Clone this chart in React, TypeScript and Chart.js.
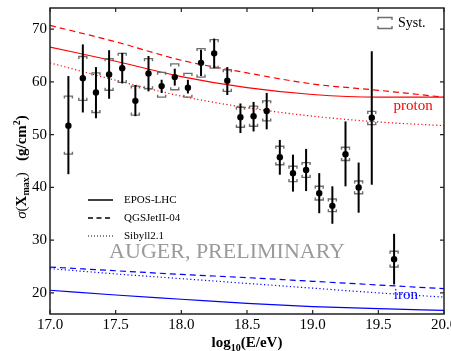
import React, { useEffect, useRef } from 'react';
import { Chart, registerables } from 'chart.js';
Chart.register(...registerables);

const SERIF = '"Liberation Serif", "Times New Roman", serif';

// Data points (log10(E/eV)) and sigma(Xmax) in g/cm^2
const X_BINS = [17.14, 17.25, 17.35, 17.45, 17.55, 17.65, 17.75, 17.85, 17.95, 18.05, 18.15, 18.25, 18.35, 18.45, 18.55, 18.65, 18.75, 18.85, 18.95, 19.05, 19.15, 19.25, 19.35, 19.45, 19.62];
const SIGMA = [51.7, 60.7, 58.0, 61.4, 62.6, 56.4, 61.6, 59.2, 60.9, 58.9, 63.6, 65.4, 60.2, 53.3, 53.5, 54.5, 45.7, 42.7, 43.3, 38.9, 36.5, 46.3, 40.0, 53.2, 26.4];
const STAT_LO = [42.5, 54.2, 53.1, 56.8, 59.7, 53.5, 58.2, 57.9, 59.3, 57.8, 61.1, 62.6, 57.5, 50.3, 50.6, 51.0, 42.4, 39.2, 39.3, 35.1, 33.1, 40.2, 35.2, 40.5, 21.6];
const STAT_HI = [61.1, 67.1, 62.8, 66.0, 65.5, 59.4, 64.9, 60.4, 62.5, 60.4, 66.1, 68.2, 62.8, 55.9, 56.2, 57.9, 49.0, 46.2, 47.3, 42.7, 40.2, 52.5, 44.7, 65.8, 31.2];
const SYS_LO = [46.3, 56.5, 54.2, 58.4, 59.9, 53.7, 58.7, 57.1, 58.5, 57.1, 60.9, 62.6, 58.2, 51.4, 51.6, 52.6, 44.3, 41.1, 41.9, 37.6, 35.4, 45.1, 38.8, 51.9, 24.9];
const SYS_HI = [57.3, 64.8, 61.7, 64.4, 65.4, 59.2, 64.4, 61.8, 63.4, 61.6, 66.3, 68.0, 62.3, 55.2, 55.4, 56.4, 47.8, 44.0, 44.7, 40.2, 37.8, 47.6, 41.2, 54.4, 27.9];

// Model predictions
const E_MODEL = [17.0, 17.5, 18.0, 18.5, 19.0, 19.5, 20.0];
const P_EPOS = [66.6, 63.9, 61.0, 58.9, 57.6, 57.1, 57.1];
const P_QGS = [70.7, 67.6, 64.1, 61.7, 59.6, 58.4, 57.1];
const P_SIB = [63.6, 60.3, 57.3, 55.1, 53.5, 52.4, 51.7];
const FE_EPOS = [20.5, 19.6, 18.8, 18.0, 17.4, 17.0, 16.7];
const FE_QGS = [24.9, 24.2, 23.5, 22.9, 22.2, 21.5, 20.8];
const FE_SIB = [24.6, 23.6, 22.7, 21.8, 20.9, 20.0, 19.2];

const LEGEND = [
  { label: 'EPOS-LHC', dash: [] as number[] },
  { label: 'QGSJetII-04', dash: [5, 3.5] },
  { label: 'Sibyll2.1', dash: [1, 2] },
];

const toXY = (ys: number[]) => E_MODEL.map((x, i) => ({ x, y: ys[i] }));

type Run = { t: string; font: string; dy?: number };
function drawRuns(ctx: CanvasRenderingContext2D, runs: Run[], cx: number, baseline: number) {
  let total = 0;
  for (const r of runs) { ctx.font = r.font; total += ctx.measureText(r.t).width; }
  let x = cx - total / 2;
  ctx.textAlign = 'left';
  ctx.textBaseline = 'alphabetic';
  for (const r of runs) {
    ctx.font = r.font;
    ctx.fillText(r.t, x, baseline + (r.dy || 0));
    x += ctx.measureText(r.t).width;
  }
}

export default function App() {
  const ref = useRef<HTMLCanvasElement>(null);
  useEffect(() => {
    const ctx = ref.current!.getContext('2d')!;
    const overlay = {
      id: 'overlay',
      beforeDatasetDraw(chart: any, args: any) {
        if (args.index !== 0) return;
        const c = chart.ctx;
        const xs = chart.scales.x, ys = chart.scales.y;
        c.save();
        // systematic brackets
        c.strokeStyle = '#6e6e6e';
        c.lineWidth = 1.4;
        X_BINS.forEach((e, i) => {
          const px = xs.getPixelForValue(e);
          const hw = 4;
          const yh = ys.getPixelForValue(SYS_HI[i]);
          const yl = ys.getPixelForValue(SYS_LO[i]);
          c.beginPath();
          c.moveTo(px - hw, yh + 2.5); c.lineTo(px - hw, yh); c.lineTo(px + hw, yh); c.lineTo(px + hw, yh + 2.5);
          c.moveTo(px - hw, yl - 2.5); c.lineTo(px - hw, yl); c.lineTo(px + hw, yl); c.lineTo(px + hw, yl - 2.5);
          c.stroke();
        });
        // statistical bars
        c.strokeStyle = '#000';
        c.lineWidth = 2;
        X_BINS.forEach((e, i) => {
          const px = xs.getPixelForValue(e);
          c.beginPath();
          c.moveTo(px, ys.getPixelForValue(STAT_LO[i]));
          c.lineTo(px, ys.getPixelForValue(STAT_HI[i]));
          c.stroke();
        });
        c.restore();
      },
      afterDraw(chart: any) {
        const c = chart.ctx as CanvasRenderingContext2D;
        const a = chart.chartArea;
        const xs = chart.scales.x, ys = chart.scales.y;
        c.save();
        // frame
        c.strokeStyle = '#222';
        c.lineWidth = 1.5;
        c.strokeRect(a.left, a.top, a.right - a.left, a.bottom - a.top);
        // inward ticks
        c.lineWidth = 1.2;
        c.beginPath();
        xs.ticks.forEach((t: any) => {
          const px = xs.getPixelForValue(t.value);
          c.moveTo(px, a.bottom); c.lineTo(px, a.bottom - 4);
          c.moveTo(px, a.top); c.lineTo(px, a.top + 4);
        });
        ys.ticks.forEach((t: any) => {
          const py = ys.getPixelForValue(t.value);
          c.moveTo(a.left, py); c.lineTo(a.left + 4, py);
          c.moveTo(a.right, py); c.lineTo(a.right - 4, py);
        });
        c.stroke();

        // watermark
        c.fillStyle = '#9a9a9a';
        c.font = `22px ${SERIF}`;
        c.textAlign = 'left';
        c.textBaseline = 'alphabetic';
        c.fillText('AUGER, PRELIMINARY', xs.getPixelForValue(17.45), ys.getPixelForValue(26.7));

        // model labels
        c.font = `15px ${SERIF}`;
        c.textAlign = 'center';
        c.textBaseline = 'middle';
        c.fillStyle = '#ff0000';
        c.fillText('proton', xs.getPixelForValue(19.765), ys.getPixelForValue(55.5));
        c.fillStyle = '#0000ff';
        c.fillText('iron', xs.getPixelForValue(19.71), ys.getPixelForValue(19.5));

        // legend
        c.fillStyle = '#000';
        c.strokeStyle = '#000';
        c.font = `11px ${SERIF}`;
        c.textAlign = 'left';
        LEGEND.forEach((l, i) => {
          const y = a.top + 192 + i * 18;
          c.setLineDash(l.dash);
          c.lineWidth = l.dash.length && l.dash[0] < 2 ? 1 : 1.5;
          c.beginPath(); c.moveTo(a.left + 38, y); c.lineTo(a.left + 63, y); c.stroke();
          c.setLineDash([]);
          c.fillText(l.label, a.left + 74, y);
        });

        // Syst. key
        c.strokeStyle = '#6e6e6e';
        c.lineWidth = 1.4;
        const kx = a.right - 66, ky = a.top + 15;
        c.beginPath();
        c.moveTo(kx, ky - 3); c.lineTo(kx, ky - 5.5); c.lineTo(kx + 14, ky - 5.5); c.lineTo(kx + 14, ky - 3);
        c.moveTo(kx, ky + 3); c.lineTo(kx, ky + 5.5); c.lineTo(kx + 14, ky + 5.5); c.lineTo(kx + 14, ky + 3);
        c.stroke();
        c.fillStyle = '#000';
        c.font = `14px ${SERIF}`;
        c.textBaseline = 'middle';
        c.fillText('Syst.', kx + 20, ky);

        // x title
        c.fillStyle = '#000';
        drawRuns(c, [
          { t: 'log', font: `bold 15px ${SERIF}` },
          { t: '10', font: `bold 10px ${SERIF}`, dy: 4 },
          { t: '(E/eV)', font: `bold 15px ${SERIF}` },
        ], (a.left + a.right) / 2, 347);

        // y title
        c.translate(26, 167);
        c.rotate(-Math.PI / 2);
        drawRuns(c, [
          { t: 'σ', font: `italic 15px ${SERIF}` },
          { t: '(', font: `15px ${SERIF}` },
          { t: 'X', font: `bold 15px ${SERIF}` },
          { t: 'max', font: `bold 10px ${SERIF}`, dy: 3 },
          { t: ')', font: `15px ${SERIF}` },
          { t: '   (g/cm', font: `bold 15px ${SERIF}` },
          { t: '2', font: `bold 10px ${SERIF}`, dy: -6 },
          { t: ')', font: `bold 15px ${SERIF}` },
        ], 0, 0);
        c.restore();
      },
    };

    const lineDs = (data: number[], color: string, dash: number[], w = 1.2) => ({
      type: 'line' as const,
      data: toXY(data),
      borderColor: color,
      borderWidth: w,
      borderDash: dash,
      pointRadius: 0,
      fill: false,
      cubicInterpolationMode: 'monotone' as const,
    });

    const chart = new Chart(ctx, {
      type: 'scatter',
      data: {
        datasets: [
          {
            type: 'scatter',
            data: X_BINS.map((x, i) => ({ x, y: SIGMA[i] })),
            pointRadius: 3.2,
            pointBackgroundColor: '#000',
            pointBorderWidth: 0,
          } as any,
          lineDs(P_EPOS, '#ff0000', []),
          lineDs(P_QGS, '#ff0000', [6, 4]),
          lineDs(P_SIB, '#ff0000', [1.2, 2.5]),
          lineDs(FE_EPOS, '#0000ff', []),
          lineDs(FE_QGS, '#0000ff', [6, 4]),
          lineDs(FE_SIB, '#0000ff', [1.2, 2.5]),
        ],
      },
      plugins: [overlay],
      options: {
        responsive: false,
        animation: false,
        layout: { padding: { top: 8, right: 7, left: 0, bottom: 0 } },
        plugins: { legend: { display: false }, tooltip: { enabled: false } },
        scales: {
          x: {
            type: 'linear',
            min: 17,
            max: 20,
            grid: { display: false, drawTicks: false },
            border: { display: false },
            ticks: {
              stepSize: 0.5,
              autoSkip: false,
              maxRotation: 0,
              padding: 2,
              color: '#000',
              font: { family: SERIF, size: 15 },
              callback: (v: any) => Number(v).toFixed(1),
            },
            afterFit: (s: any) => { s.height = 37; s.paddingLeft = 0; s.paddingRight = 0; },
          },
          y: {
            type: 'linear',
            min: 16,
            max: 74,
            grid: { display: false, drawTicks: false },
            border: { display: false },
            ticks: {
              stepSize: 10,
              includeBounds: false,
              padding: 3,
              color: '#000',
              font: { family: SERIF, size: 15 },
            },
            afterFit: (s: any) => { s.width = 50; s.paddingTop = 0; s.paddingBottom = 0; },
          },
        },
      } as any,
    });
    return () => chart.destroy();
  }, []);
  return (
    <div style={{ position: 'absolute', left: 0, top: 0, width: 451, height: 351, background: '#fff' }}>
      <canvas ref={ref} width={451} height={351} style={{ display: 'block' }} />
    </div>
  );
}
